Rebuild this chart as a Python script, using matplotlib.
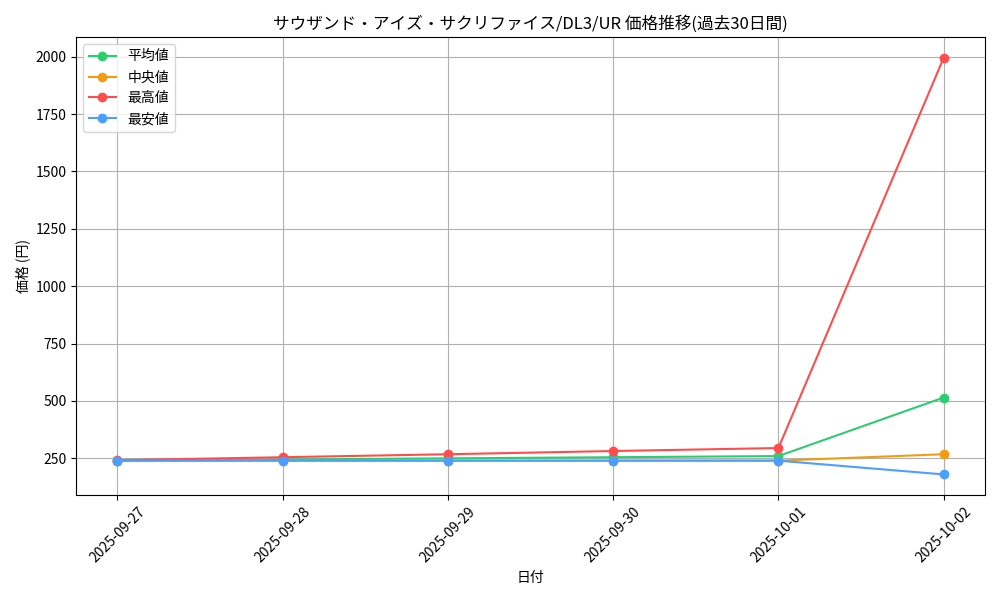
import matplotlib
matplotlib.use("Agg")
import matplotlib.pyplot as plt

plt.rcParams['font.family'] = ['Noto Sans CJK JP', 'DejaVu Sans']

dates = ["2025-09-27", "2025-09-28", "2025-09-29", "2025-09-30", "2025-10-01", "2025-10-02"]
avg = [240, 245, 250, 255, 260, 515]
median = [240, 240, 240, 240, 240, 268]
maxv = [242, 255, 268, 282, 295, 1995]
minv = [240, 240, 240, 240, 240, 180]

fig, ax = plt.subplots(figsize=(10, 6), dpi=100)
x = range(len(dates))
ax.plot(x, avg, marker='o', color='#2ecc71', label='平均値')
ax.plot(x, median, marker='o', color='#f39c12', label='中央値')
ax.plot(x, maxv, marker='o', color='#ff4d4d', label='最高値')
ax.plot(x, minv, marker='o', color='#4d9fff', label='最安値')
ax.set_xticks(list(x))
ax.set_xticklabels(dates, rotation=45)
ax.set_title('サウザンド・アイズ・サクリファイス/DL3/UR 価格推移(過去30日間)')
ax.set_xlabel('日付')
ax.set_ylabel('価格 (円)')
ax.grid(True)
ax.legend(loc='upper left')
fig.tight_layout()
fig.savefig('out.png')
